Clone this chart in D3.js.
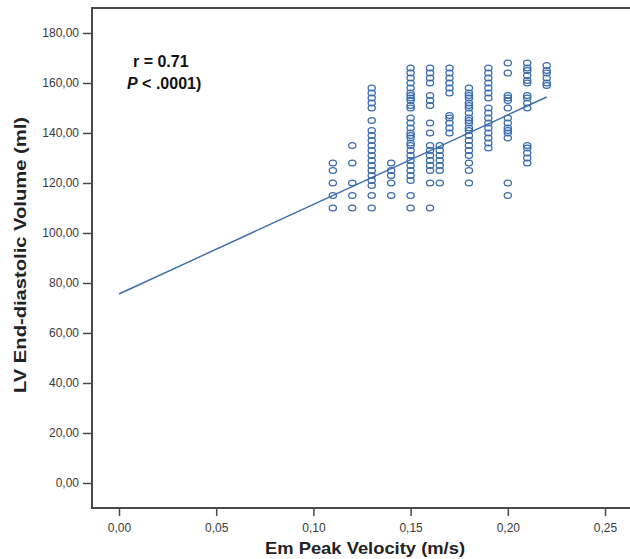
<!DOCTYPE html>
<html>
<head>
<meta charset="utf-8">
<script src="https://cdn.jsdelivr.net/npm/d3@7"></script>
<style>
  body { margin: 0; background: white; }
  svg { display: block; font-family: "Liberation Sans", Arial, sans-serif; }
</style>
</head>
<body>
<svg id="chart" width="630" height="559"></svg>
<script>
// velocity columns (m/s) and the volumes plotted at each one (ml)
let velocity = [0.11, 0.12, 0.13, 0.14, 0.15, 0.16, 0.165, 0.17, 0.18, 0.19, 0.2, 0.21, 0.22];
let volumes = [
  [128, 125, 120, 115, 110],
  [135, 128, 120, 115, 110],
  [158, 156, 154, 152, 150, 145, 141, 139, 137, 135, 133, 131, 129, 127, 125, 123, 121, 119, 115, 110],
  [128, 125, 123, 120, 115],
  [166, 164, 162, 160, 158, 156, 155, 154, 153, 151, 150, 146, 144, 142, 140, 139, 138, 136, 135, 133, 131, 129, 127, 125, 123, 121, 115, 110],
  [166, 164, 162, 160, 155, 153, 151, 144, 140, 135, 133, 131, 129, 127, 125, 120, 110],
  [135, 133, 131, 129, 127, 125, 120],
  [166, 164, 162, 160, 158, 156, 147, 146, 144, 142, 140],
  [158, 156, 155, 154, 152, 151, 150, 148, 146, 145, 144, 142, 141, 139, 137, 135, 133, 131, 128, 125, 120],
  [166, 164, 162, 160, 158, 156, 154, 150, 148, 146, 144, 142, 140, 138, 136, 134],
  [168, 164, 155, 154, 153, 150, 146, 144, 142, 141, 140, 138, 120, 115],
  [168, 166, 165, 163, 161, 160, 155, 154, 152, 150, 135, 134, 132, 130, 128],
  [167, 165, 164, 162, 160, 159]
];
// fitted line end points
let fitX = [0, 0.22];
let fitY = [75.6, 154.4];

let xTicks = [0, 0.05, 0.1, 0.15, 0.2, 0.25];
let yTicks = [0, 20, 40, 60, 80, 100, 120, 140, 160, 180];

const svg = d3.select("#chart");
const blue = "#3a6cab";

const x = d3.scaleLinear().domain([0, 0.25]).range([119, 605]);
const y = d3.scaleLinear().domain([0, 180]).range([483, 33]);

const fmt = (d, n) => d.toFixed(n).replace(".", ",");

// frame (right side runs off the picture)
svg
  .append("path")
  .attr("d", "M640,8 H92 V508 H640")
  .attr("fill", "none")
  .attr("stroke", "#4a4a4a")
  .attr("stroke-width", 2);

// y axis
const yAxis = svg
  .append("g")
  .attr("transform", "translate(92,0)")
  .call(d3.axisLeft(y).tickValues(yTicks).tickSize(9).tickFormat((d) => fmt(d, 2)));
yAxis.select(".domain").remove();
yAxis.selectAll("line").attr("stroke", "#4a4a4a").attr("stroke-width", 1.5);
yAxis
  .selectAll("text")
  .attr("x", -13)
  .attr("fill", "#3a3a3a")
  .attr("font-size", 12)
  .attr("font-family", "Liberation Sans, Arial, sans-serif");

// x axis
const xAxis = svg
  .append("g")
  .attr("transform", "translate(0,508)")
  .call(d3.axisBottom(x).tickValues(xTicks).tickSize(8).tickFormat((d) => fmt(d, 2)));
xAxis.select(".domain").remove();
xAxis.selectAll("line").attr("stroke", "#4a4a4a").attr("stroke-width", 1.5);
xAxis
  .selectAll("text")
  .attr("y", 15)
  .attr("fill", "#3a3a3a")
  .attr("font-size", 12)
  .attr("font-family", "Liberation Sans, Arial, sans-serif");

// axis titles
svg
  .append("text")
  .attr("x", 365)
  .attr("y", 554)
  .attr("text-anchor", "middle")
  .attr("font-size", 17)
  .attr("font-weight", "bold")
  .attr("textLength", 200)
  .attr("lengthAdjust", "spacingAndGlyphs")
  .attr("fill", "#222")
  .text("Em Peak Velocity (m/s)");

svg
  .append("text")
  .attr("transform", "translate(26,255) rotate(-90)")
  .attr("text-anchor", "middle")
  .attr("font-size", 17)
  .attr("font-weight", "bold")
  .attr("textLength", 276)
  .attr("lengthAdjust", "spacingAndGlyphs")
  .attr("fill", "#222")
  .text("LV End-diastolic Volume (ml)");

// points
let points = [];
velocity.forEach((v, i) => {
  volumes[i].forEach((vol) => points.push([v, vol]));
});

svg
  .append("g")
  .selectAll("ellipse")
  .data(points)
  .join("ellipse")
  .attr("cx", (d) => x(d[0]))
  .attr("cy", (d) => y(d[1]))
  .attr("rx", 3.6)
  .attr("ry", 2.9)
  .attr("fill", "none")
  .attr("stroke", blue)
  .attr("stroke-width", 1.3);

// fit line
svg
  .append("path")
  .datum(fitX.map((d, i) => [d, fitY[i]]))
  .attr("d", d3.line().x((d) => x(d[0])).y((d) => y(d[1])))
  .attr("fill", "none")
  .attr("stroke", blue)
  .attr("stroke-width", 1.4);

// annotation
svg
  .append("text")
  .attr("x", 133)
  .attr("y", 67)
  .attr("font-size", 16)
  .attr("font-weight", "bold")
  .attr("fill", "#111")
  .text("r = 0.71");

const pTxt = svg
  .append("text")
  .attr("x", 127)
  .attr("y", 89)
  .attr("font-size", 16)
  .attr("font-weight", "bold")
  .attr("fill", "#111");
pTxt.append("tspan").attr("font-style", "italic").text("P");
pTxt.append("tspan").text(" < .0001)");
</script>
</body>
</html>
